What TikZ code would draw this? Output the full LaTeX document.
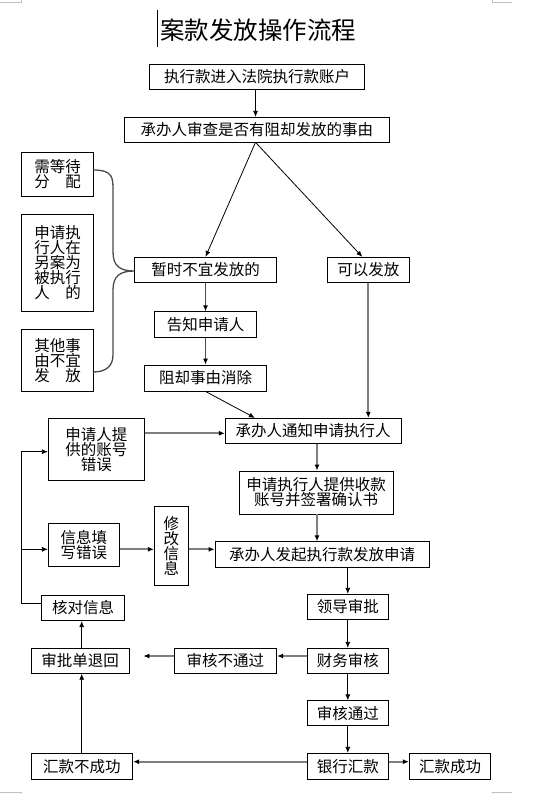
\documentclass[tikz,border=0pt]{standalone}
\usepackage{fontspec}
\newfontfamily\cjk{Noto Sans CJK SC}
\usetikzlibrary{arrows.meta}
\definecolor{lg}{HTML}{7F7F7F}
\definecolor{dg}{HTML}{4A4A4A}
\definecolor{mk}{HTML}{C0C0C0}
\newcommand\BX[6]{\node[box,minimum width={#4-#2},minimum height={#5-#3}] (#1) at ({(#2+#4)/2},{(#3+#5)/2}) {#6};}
\begin{document}
\begin{tikzpicture}[x=1pt,y=-1pt,
  box/.style={draw,line width=0.8pt,inner sep=0pt,font=\cjk\fontsize{15.5}{15}\selectfont,align=center},
  thn/.style={line width=0.8pt,draw=black,-{Latex[length=6pt,width=5pt,color=black]}},
  mid/.style={line width=1.2pt,draw=dg,-{Latex[length=6pt,width=5pt,color=black]}},
  thk/.style={line width=1.8pt,draw=lg,-{Latex[length=6pt,width=5pt,color=black]}},
  plain/.style={line width=0.8pt,draw=black}]
\fill[white] (0,0) rectangle (554,794);
\useasboundingbox (0,0) rectangle (554,794);
% corner marks
\draw[mk,line width=1pt] (0,2.5) -- (21.7,2.5) -- (21.7,0);
\draw[mk,line width=1pt] (492.3,0) -- (492.3,2.5) -- (511.7,2.5);
\draw[mk,line width=1pt] (0,792.5) -- (21.2,792.5) -- (21.2,794);
\draw[mk,line width=1pt] (492.2,794) -- (492.2,792.5) -- (511.7,792.5);
% title
\draw[line width=1.5pt] (157.7,10) -- (157.7,46.7);
\node[inner sep=0pt,font=\cjk\fontsize{24.5}{24.5}\selectfont] (title) at (258,30) {案款发放操作流程};
% boxes
\BX{n1}{149.3}{64.3}{364.7}{89.3}{执行款进入法院执行款账户}
\BX{n2}{124.3}{117.3}{389.3}{142.3}{承办人审查是否有阻却发放的事由}
\BX{la}{21.7}{152.3}{93.3}{196}{需等待\\分　配}
\BX{lb}{21.7}{214}{93.3}{311.7}{申请执\\行人在\\另案为\\被执行\\人　的}
\BX{lc}{21.7}{329.3}{93.3}{391}{其他事\\由不宜\\发　放}
\BX{tz}{134.3}{257.3}{276.7}{282.3}{暂时不宜发放的}
\BX{ky}{327.3}{257.3}{409.3}{282.3}{可以发放}
\BX{gz}{154.3}{311.7}{256.7}{337.3}{告知申请人}
\BX{zq}{144.3}{365}{266.7}{391}{阻却事由消除}
\BX{tn}{225.3}{418.3}{401}{443.3}{承办人通知申请执行人}
\BX{zh}{48.3}{418.3}{144.3}{480}{申请人提\\供的账号\\错误}
\BX{sk}{239.3}{471}{393}{514}{申请执行人提供收款\\账号并签署确认书}
\BX{xg}{154.3}{506}{188.3}{585}{修\\改\\信\\息}
\BX{xx}{48.3}{523.3}{119.3}{566.7}{信息填\\写错误}
\BX{fq}{215}{541.7}{429.3}{567.3}{承办人发起执行款发放申请}
\BX{hd}{41.7}{595}{124.3}{620.7}{核对信息}
\BX{ld}{307.3}{594.3}{388.3}{619.3}{领导审批}
\BX{cw}{307.3}{648.3}{388.3}{673.3}{财务审核}
\BX{bt}{174}{648.3}{276.7}{673.3}{审核不通过}
\BX{sp}{31}{648.3}{129.3}{673.3}{审批单退回}
\BX{tg}{307.3}{700.7}{388.3}{725.7}{审核通过}
\BX{yh}{307.3}{753.3}{388.3}{779.3}{银行汇款}
\BX{hs}{409.3}{753.3}{490.7}{779.3}{汇款成功}
\BX{hb}{31}{753.3}{132.7}{779.3}{汇款不成功}
% helper coordinates
\coordinate (apex) at (255.5,142.3);
\coordinate (yA) at (0,433.3);
\coordinate (xB) at (317,0);
\coordinate (yC) at (0,549.3);
\coordinate (lp) at (21.7,603.3);
\coordinate (yZ) at (0,451.7);
\coordinate (yE) at (0,656);
\coordinate (gp) at (143.3,656);
\coordinate (xF) at (81.7,0);
\coordinate (yG) at (0,761.7);
\coordinate (br1) at (93.3,170);
\coordinate (br2) at (93.3,372);
\coordinate (brt) at (134.3,271);
% connectors
\draw[thn] (n1.south -| apex) -- (n2.north -| apex);
\draw[thn] (apex) -- (tz.north);
\draw[thn] (apex) -- ([xshift=-6pt]ky.north);
\draw[mid] (tz.south) -- (gz.north);
\draw[mid] (gz.south) -- (zq.north);
\draw[thk] (ky.south) -- (ky.south |- tn.north);
\draw[thn] (zq.south) -- ([xshift=30pt]tn.north west);
\draw[thk] (zh.east |- yA) -- (tn.west |- yA);
\draw[thk] (tn.south -| xB) -- (sk.north -| xB);
\draw[thk] (sk.south -| xB) -- (fq.north -| xB);
\draw[thk] (xx.east |- yC) -- (xg.west |- yC);
\draw[thk] (xg.east |- yC) -- (fq.west |- yC);
\draw[thn] (hd.west |- lp) -- (lp) -- (lp |- yZ) -- (zh.west |- yZ);
\draw[thn] (lp |- yC) -- (xx.west |- yC);
\draw[thn] (fq.south -| ld.north) -- (ld.north);
\draw[thn] (ld.south) -- (cw.north);
\draw[thk] (cw.west |- yE) -- (bt.east |- yE);
\draw[thk] (bt.west |- yE) -- (gp);
\draw[thn] (cw.south) -- (tg.north);
\draw[thn] (tg.south) -- (yh.north);
\draw[thn] (sp.north -| xF) -- (hd.south -| xF);
\draw[thn] (hb.north -| xF) -- (sp.south -| xF);
\draw[thk] (yh.west |- yG) -- (hb.east |- yG);
\draw[thk] (yh.east |- yG) -- (hs.west |- yG);
% brace
\draw[dg,line width=1.3pt] (br1) .. controls (113,170) and (113,178) .. (113,190) -- (113,252)
  .. controls (113,266) and (120,271) .. (brt)
  .. controls (120,271) and (113,276) .. (113,290) -- (113,355)
  .. controls (113,366) and (106,372) .. (br2);
\end{tikzpicture}
\end{document}
